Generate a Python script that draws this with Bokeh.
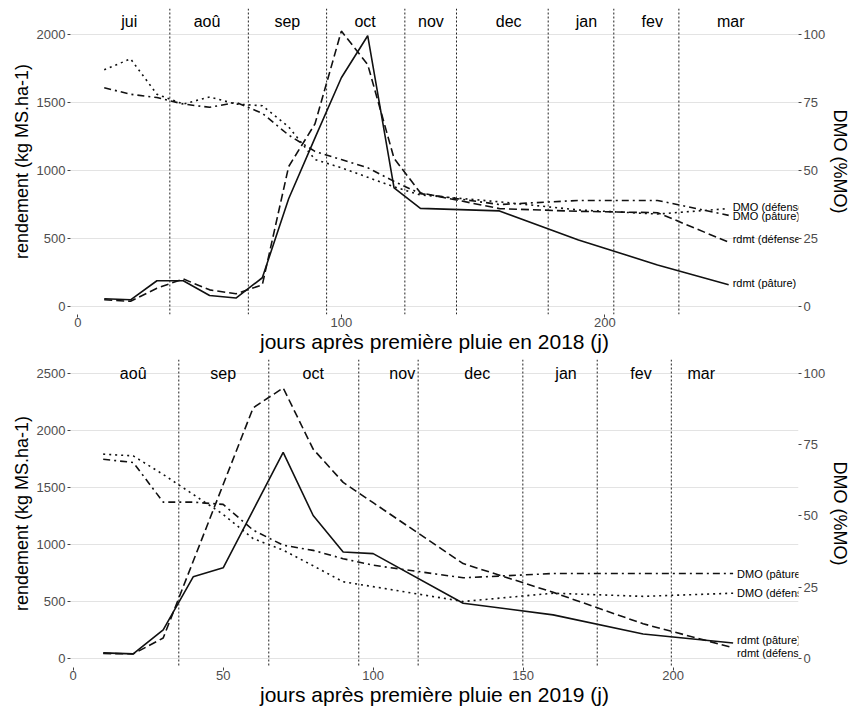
from bokeh.plotting import figure
from bokeh.models import Range1d, LinearAxis, Span, FixedTicker
from bokeh.layouts import column
from bokeh.embed import file_html
from bokeh.resources import INLINE
from bokeh.core.properties import value

FONT = "Liberation Sans"

# ---------------- 2018 ----------------
jours_2018 = [10, 20, 30, 40, 50, 60, 70, 80, 90, 100, 110, 120, 130, 160, 190, 220, 247]
rdmt_pature_2018 = [58, 50, 190, 190, 82, 63, 212, 792, 1240, 1681, 1990, 872, 722, 703, 490, 306, 160]
rdmt_defens_2018 = [50, 39, 135, 203, 123, 94, 160, 1029, 1343, 2024, 1778, 1089, 836, 720, 700, 690, 473]
dmo_defens_2018 = [87, 91, 78, 74.4, 77, 74.4, 73.8, 66, 54, 51, 47.5, 44, 41, 38.5, 35.5, 34, 36]
dmo_pature_2018 = [80.4, 78, 76.8, 74.4, 73.2, 75, 71, 63, 57, 54, 51, 46, 41.5, 37.5, 39, 39, 33.5]
mois_2018 = ["jui", "aoû", "sep", "oct", "nov", "dec", "jan", "fev", "mar"]
mois_centre_2018 = [19.5, 49, 79.5, 109, 134, 163.5, 193, 218, 247.8]
limites_mois_2018 = [34.9, 64.7, 94.4, 124.1, 143.7, 178.5, 203.4, 228.1]

# ---------------- 2019 ----------------
jours_2019 = [10, 20, 30, 40, 50, 60, 70, 80, 90, 100, 130, 160, 190, 220]
rdmt_pature_2019 = [50, 41, 252, 716, 795, 1300, 1805, 1253, 934, 919, 485, 383, 215, 137]
rdmt_defens_2019 = [45, 41, 180, 852, 1524, 2196, 2370, 1834, 1543, 1365, 832, 580, 305, 95]
dmo_pature_2019 = [69.8, 68.7, 54.8, 54.8, 54, 45, 39.7, 37.9, 35, 32.7, 28.3, 29.8, 29.8, 29.8]
dmo_defens_2019 = [71.6, 71, 64.5, 57.5, 50.5, 42, 38, 32.5, 26.9, 25.2, 20, 22.9, 21.8, 22.9]
mois_2019 = ["aoû", "sep", "oct", "nov", "dec", "jan", "fev", "mar"]
mois_centre_2019 = [20, 50, 80, 109.7, 134.7, 164.3, 189.3, 209.4]
limites_mois_2019 = [35.2, 65.2, 95.2, 115, 149.9, 174.7, 199.4]

BLACK = "#111111"
STYLES = {
    "rdmt (pâture)": dict(line_dash="solid"),
    "rdmt (défense)": dict(line_dash="8 4"),
    "DMO (pâture)": dict(line_dash="7 4 2 4"),
    "DMO (défense)": dict(line_dash="2 4"),
}


def panel(jours, series, mois, mois_centre, limites, xr, yr, ratio, yticks, xticks,
          mois_y, annee, label_dy, top_border, frame_h):
    p = figure(frame_width=728, frame_height=frame_h,
               x_range=Range1d(*xr), y_range=Range1d(*yr),
               output_backend="svg", toolbar_location=None,
               min_border_left=70, min_border_right=0,
               min_border_top=top_border, min_border_bottom=0)
    p.extra_y_ranges = {"dmo": Range1d(yr[0] / ratio, yr[1] / ratio)}
    p.outline_line_color = None
    p.background_fill_color = "white"
    p.border_fill_color = "white"
    p.xgrid.visible = False
    p.ygrid.ticker = FixedTicker(ticks=yticks)
    p.ygrid.grid_line_color = "#e3e3e3"
    p.ygrid.grid_line_width = 1

    right = LinearAxis(y_range_name="dmo", axis_label="DMO (%MO)")
    p.add_layout(right, "right")

    p.xaxis.ticker = FixedTicker(ticks=xticks)
    p.yaxis[0].ticker = FixedTicker(ticks=yticks)
    right.ticker = FixedTicker(ticks=[0, 25, 50, 75, 100])
    p.xaxis.axis_label = "jours après première pluie en %d (j)" % annee
    p.yaxis[0].axis_label = "rendement (kg MS.ha-1)"

    for ax in p.axis:
        ax.axis_line_color = None
        ax.major_tick_line_color = "#444444"
        ax.major_tick_out = 3
        ax.major_tick_in = 0
        ax.minor_tick_line_color = None
        ax.major_label_text_color = "#4d4d4d"
        ax.major_label_text_font = FONT
        ax.major_label_text_font_size = "13px"
        ax.major_label_standoff = 2
        ax.axis_label_text_font = FONT
        ax.axis_label_text_font_style = "normal"
        ax.axis_label_text_color = "black"
        ax.axis_label_standoff = 2
    p.xaxis.axis_label_text_font_size = "21px"
    p.xaxis.major_label_standoff = 0
    p.xaxis.axis_label_standoff = 0
    p.yaxis[0].axis_label_text_font_size = "18px"
    right.axis_label_text_font_size = "18px"

    for d in limites:
        p.add_layout(Span(location=d, dimension="height", line_color="#222222",
                          line_width=1, line_dash="2 2"))

    p.text(x=mois_centre, y=[mois_y] * len(mois), text=mois,
           text_align="center", text_baseline="middle",
           text_font=value(FONT), text_font_size="16px", text_color="black")

    for (name, ys, on_dmo), dy in zip(series, label_dy):
        kw = dict(y_range_name="dmo") if on_dmo else {}
        p.line(jours, ys, line_color=BLACK, line_width=1.6, **STYLES[name], **kw)
        p.text(x=[jours[-1]], y=[ys[-1]], text=[name], x_offset=4, y_offset=dy,
               text_align="left", text_baseline="middle",
               text_font=value(FONT), text_font_size="11px", text_color="black", **kw)
    return p


p1 = panel(jours_2018,
           [("rdmt (pâture)", rdmt_pature_2018, False),
            ("rdmt (défense)", rdmt_defens_2018, False),
            ("DMO (défense)", dmo_defens_2018, True),
            ("DMO (pâture)", dmo_pature_2018, True)],
           mois_2018, mois_centre_2018, limites_mois_2018,
           (-2.8, 273.5), (-58, 2190), 20, [0, 500, 1000, 1500, 2000], [0, 100, 200],
           2094, 2018, [-2, -3, -2, 1], 8, 306)

p2 = panel(jours_2019,
           [("rdmt (pâture)", rdmt_pature_2019, False),
            ("rdmt (défense)", rdmt_defens_2019, False),
            ("DMO (pâture)", dmo_pature_2019, True),
            ("DMO (défense)", dmo_defens_2019, True)],
           mois_2019, mois_centre_2019, limites_mois_2019,
           (-0.9, 241.8), (-78, 2619), 25, [0, 500, 1000, 1500, 2000, 2500],
           [0, 50, 100, 150, 200],
           2500, 2019, [-3, 5, 0, 0], 4, 308)

layout = column(p1, p2, spacing=0)
open("out.html", "w").write(file_html(layout, INLINE))
